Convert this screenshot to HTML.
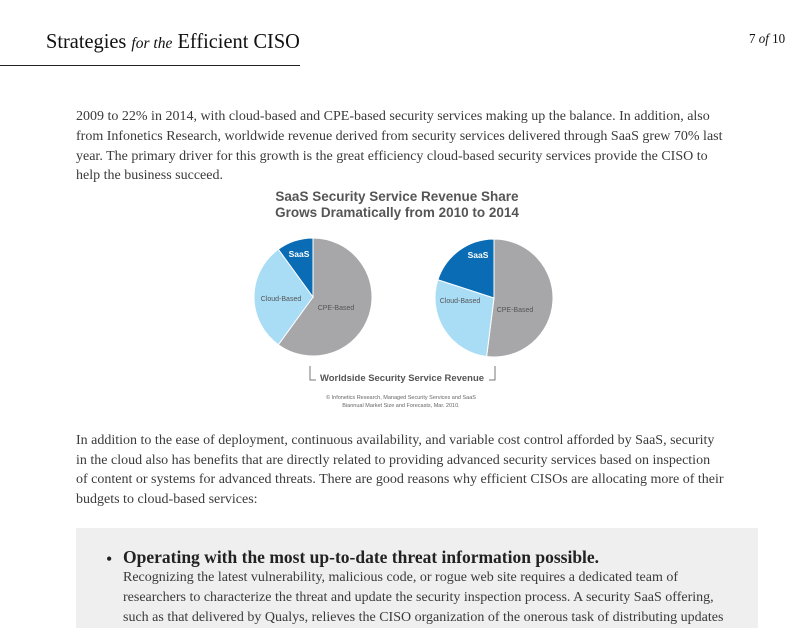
<!DOCTYPE html>
<html><head><meta charset="utf-8"><style>
body{margin:0;width:804px;height:620px;overflow:hidden;background:#fff;position:relative;font-family:"Liberation Serif",serif;color:#3a3a3a}
.ln{position:absolute;left:76px;font-size:14px;white-space:nowrap;line-height:20px}
.bx{position:absolute;left:76px;top:528px;width:682px;height:100px;background:#efefef}
.bl{position:absolute;left:123px;font-size:14px;white-space:nowrap;line-height:20px}
</style></head><body>
<div style="position:absolute;left:46px;top:29px;font-size:21px;color:#111;white-space:nowrap;transform:scaleX(0.97);transform-origin:0 0">Strategies <i style="font-size:16px">for the</i> Efficient CISO</div>
<div style="position:absolute;left:0;top:65px;width:300px;height:1px;background:#222"></div>
<div style="position:absolute;left:749px;top:32px;font-size:14px;color:#111;transform:scaleX(0.93);transform-origin:0 0">7 <i>of</i> 10</div>
<div class="ln" style="top:107px">2009 to 22% in 2014, with cloud-based and CPE-based security services making up the balance. In addition, also</div>
<div class="ln" style="top:127px">from Infonetics Research, worldwide revenue derived from security services delivered through SaaS grew 70% last</div>
<div class="ln" style="top:147px">year. The primary driver for this growth is the great efficiency cloud-based security services provide the CISO to</div>
<div class="ln" style="top:166px">help the business succeed.</div>
<svg style="position:absolute;left:0;top:0" width="804" height="420" font-family="Liberation Sans, sans-serif">
<text x="397" y="201" text-anchor="middle" font-size="13.5" font-weight="bold" fill="#555">SaaS Security Service Revenue Share</text>
<text x="397" y="217" text-anchor="middle" font-size="13.5" font-weight="bold" fill="#555">Grows Dramatically from 2010 to 2014</text>
<g id="pies"></g>
<path d="M310 366 V380 H316 M495 366 V380 H489" stroke="#777" fill="none" stroke-width="1"/>
<text x="402" y="381" text-anchor="middle" font-size="9.5" font-weight="bold" fill="#555" textLength="164" lengthAdjust="spacingAndGlyphs">Worldside Security Service Revenue</text>
<text x="401" y="399" text-anchor="middle" font-size="5.5" fill="#666">© Infonetics Research, Managed Security Services and SaaS</text>
<text x="401" y="407" text-anchor="middle" font-size="5.5" fill="#666">Biannual Market Size and Forecasts, Mar. 2010.</text>
</svg>
<div class="ln" style="top:431px">In addition to the ease of deployment, continuous availability, and variable cost control afforded by SaaS, security</div>
<div class="ln" style="top:451px">in the cloud also has benefits that are directly related to providing advanced security services based on inspection</div>
<div class="ln" style="top:470px">of content or systems for advanced threats. There are good reasons why efficient CISOs are allocating more of their</div>
<div class="ln" style="top:490px">budgets to cloud-based services:</div>
<div class="bx"></div>
<div style="position:absolute;left:106px;top:549px;font-size:18px;color:#222">•</div>
<div class="bl" style="top:547px;font-size:17.5px;font-weight:bold;color:#222">Operating with the most up-to-date threat information possible.</div>
<div class="bl" style="top:568px">Recognizing the latest vulnerability, malicious code, or rogue web site requires a dedicated team of</div>
<div class="bl" style="top:588px">researchers to characterize the threat and update the security inspection process. A security SaaS offering,</div>
<div class="bl" style="top:608px">such as that delivered by Qualys, relieves the CISO organization of the onerous task of distributing updates</div>
<script>
const categories=["CPE-Based","Cloud-Based","SaaS"];
const years=["2010","2014"];
const share2010=[60,30,10];
const share2014=[52,28,20];
const colors=["#a7a7aa","#a9dcf5","#0a6cb5"];
const centers=[[313,297],[494,298]];
const labelOffsets=[[[23,10],[-32,1],[-14,-43]],[[21,11],[-34,2],[-16,-43]]];
const R=59,NS="http://www.w3.org/2000/svg";
const g=document.getElementById('pies');
[share2010,share2014].forEach((vals,pi)=>{
  const [cx,cy]=centers[pi];const tot=vals.reduce((a,b)=>a+b,0);let a0=0;
  vals.forEach((v,i)=>{
    const a1=a0+v/tot*2*Math.PI;
    const p=(a)=>[cx+R*Math.sin(a),cy-R*Math.cos(a)];
    const [x0,y0]=p(a0),[x1,y1]=p(a1);
    const path=document.createElementNS(NS,'path');
    path.setAttribute('d',`M${cx} ${cy} L${x0} ${y0} A${R} ${R} 0 ${a1-a0>Math.PI?1:0} 1 ${x1} ${y1} Z`);
    path.setAttribute('fill',colors[i]);path.setAttribute('stroke','#fff');path.setAttribute('stroke-width','1');
    
    
    g.appendChild(path);
    const off=labelOffsets[pi][i];
    const t=document.createElementNS(NS,'text');
    t.setAttribute('x',cx+off[0]);t.setAttribute('y',cy+off[1]+3);
    t.setAttribute('text-anchor','middle');t.setAttribute('font-size',i==2?'8.5':'7');
    if(i==2){t.setAttribute('font-weight','bold');t.setAttribute('fill','#fff');}else t.setAttribute('fill','#555');
    t.textContent=i==2?'SaaS':categories[i];
    
    
    g.appendChild(t);
    a0=a1;
  });
});
</script>
</body></html>
